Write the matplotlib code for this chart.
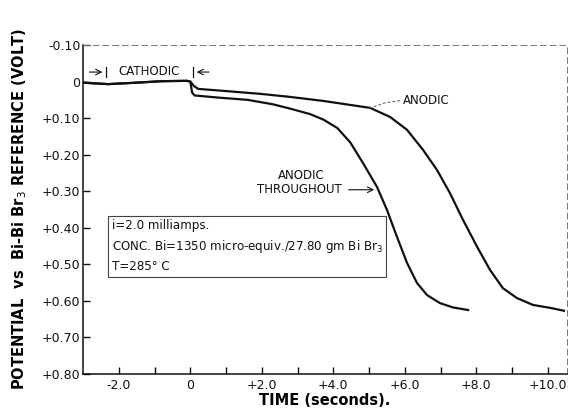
import numpy as np
import matplotlib.pyplot as plt

# Potencial (V) vs tempo; eixo y invertido (positivo para baixo)
t_cat = [-3.0, -2.3, -1.5, -0.8, -0.1]
v_cat = [0.003, 0.007, 0.003, -0.001, -0.002]

# Curva "anodic throughout"
t_thr = [0.0, 0.05, 0.12, 0.8, 1.6, 2.3, 2.79, 3.35, 3.72, 4.11, 4.47, 4.83, 5.22,
         5.5, 5.78, 6.06, 6.34, 6.62, 6.98, 7.35, 7.77]
v_thr = [0.0, 0.03, 0.038, 0.044, 0.050, 0.062, 0.074, 0.089, 0.104, 0.127, 0.166,
         0.223, 0.288, 0.351, 0.425, 0.496, 0.551, 0.584, 0.606, 0.618, 0.625]

# Curva "anodic" (após catódico)
t_an = [0.0, 0.1, 0.22, 1.0, 2.0, 2.79, 3.72, 5.03, 5.59, 6.06, 6.51, 6.9, 7.26,
        7.63, 8.02, 8.38, 8.74, 9.13, 9.58, 10.06, 10.45]
v_an = [0.0, 0.012, 0.020, 0.026, 0.034, 0.042, 0.053, 0.072, 0.097, 0.132, 0.187,
        0.242, 0.305, 0.379, 0.452, 0.515, 0.565, 0.592, 0.611, 0.619, 0.627]

xticks = [-2, 0, 2, 4, 6, 8, 10]
xtick_labels = ["-2.0", "0", "+2.0", "+4.0", "+6.0", "+8.0", "+10.0"]
yticks = [-0.1, 0.0, 0.1, 0.2, 0.3, 0.4, 0.5, 0.6, 0.7, 0.8]
ytick_labels = ["-0.10", "0", "+0.10", "+0.20", "+0.30", "+0.40", "+0.50",
                "+0.60", "+0.70", "+0.80"]

fig = plt.figure(figsize=(5.79, 4.11), dpi=100)
ax = fig.add_axes([0.1434, 0.09, 0.8356, 0.8005])

cor = "#111111"
ax.plot(t_cat + t_thr, v_cat + v_thr, color=cor, lw=1.6, solid_joinstyle="round")
ax.plot(t_cat + t_an, v_cat + v_an, color=cor, lw=1.6, solid_joinstyle="round")

ax.set_xlim(-3.0, 10.53)
ax.set_ylim(0.8, -0.1)

ax.set_xticks(xticks)
ax.set_xticklabels(xtick_labels)
ax.set_xticks([-1, 1, 3, 5, 7, 9], minor=True)
ax.set_yticks(yticks)
ax.set_yticklabels(ytick_labels)
ax.tick_params(axis="both", direction="in", length=5, width=1, labelsize=9, colors=cor)
ax.tick_params(axis="x", which="minor", direction="in", length=5, width=1)
ax.tick_params(axis="y", pad=2)

for s in ["left", "bottom"]:
    ax.spines[s].set_linewidth(1.1)
    ax.spines[s].set_color(cor)
for s in ["top", "right"]:
    ax.spines[s].set_linestyle((0, (6, 4)))
    ax.spines[s].set_linewidth(0.7)
    ax.spines[s].set_color("#777777")

ax.set_xlabel("TIME (seconds).", fontsize=10.5, fontweight="bold", labelpad=1)
ax.set_ylabel(r"POTENTIAL  vs  Bi-Bi Br$_3$ REFERENCE (VOLT)", fontsize=10.5,
              fontweight="bold", labelpad=9)

# Marcas do intervalo catódico
ax.annotate("", xy=(-2.38, -0.026), xytext=(-2.9, -0.026),
            arrowprops=dict(arrowstyle="->", color=cor, lw=0.8))
ax.plot([-2.35, -2.35], [-0.04, -0.012], color=cor, lw=0.9)
ax.text(-1.15, -0.028, "CATHODIC", fontsize=8.5, ha="center", va="center", color=cor)
ax.plot([0.08, 0.08], [-0.04, -0.012], color=cor, lw=0.9)
ax.annotate("", xy=(0.1, -0.026), xytext=(0.6, -0.026),
            arrowprops=dict(arrowstyle="->", color=cor, lw=0.8))

# Rótulo "ANODIC"
ax.text(5.95, 0.052, "ANODIC", fontsize=8.5, ha="left", va="center", color=cor)
ax.plot([5.0, 5.45, 5.9], [0.073, 0.058, 0.052], color="#555555", lw=0.7, ls=(0, (3, 2)))

# Rótulo "ANODIC THROUGHOUT"
ax.text(3.1, 0.258, "ANODIC", fontsize=8.5, ha="center", va="center", color=cor)
ax.text(3.05, 0.296, "THROUGHOUT", fontsize=8.5, ha="center", va="center", color=cor)
ax.annotate("", xy=(5.22, 0.296), xytext=(4.35, 0.296),
            arrowprops=dict(arrowstyle="->", color=cor, lw=0.8))

# Caixa de condições
txt = ("i=2.0 milliamps.\n"
       r"CONC. Bi=1350 micro-equiv./27.80 gm Bi Br$_3$" "\n"
       "T=285° C")
ax.text(-2.2, 0.451, txt, fontsize=8.6, ha="left", va="center", color=cor,
        linespacing=1.5,
        bbox=dict(boxstyle="square,pad=0.3", facecolor="white", edgecolor="#444444", lw=0.8))

fig.savefig("out.png", dpi=100)
